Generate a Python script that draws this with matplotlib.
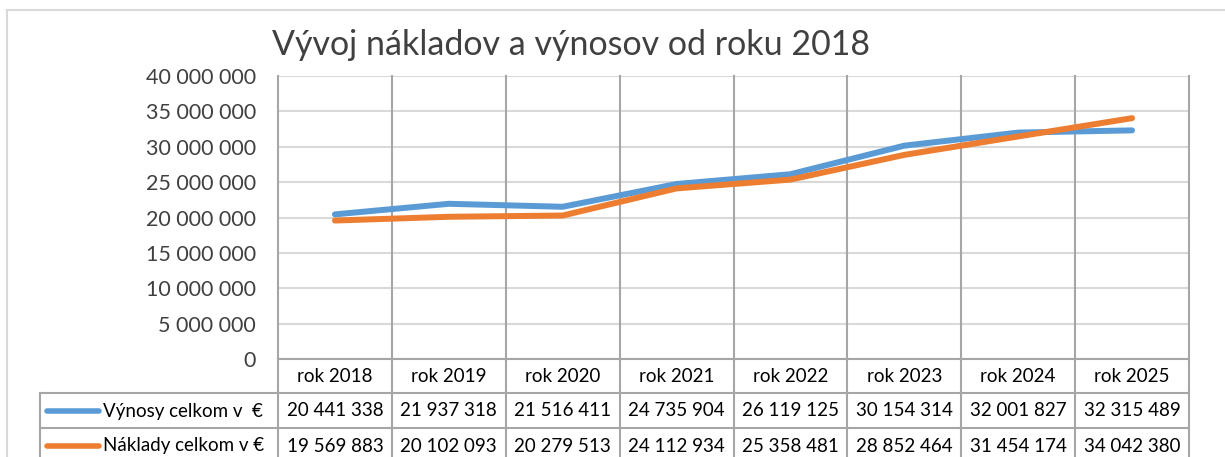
import matplotlib.pyplot as plt
from matplotlib.transforms import blended_transform_factory

# Data
years = ['rok 2018', 'rok 2019', 'rok 2020', 'rok 2021',
         'rok 2022', 'rok 2023', 'rok 2024', 'rok 2025']
vynosy = [20441338, 21937318, 21516411, 24735904, 26119125, 30154314, 32001827, 32315489]
naklady = [19569883, 20102093, 20279513, 24112934, 25358481, 28852464, 31454174, 34042380]
series_names = ['Výnosy celkom v  €', 'Náklady celkom v €']
series_colors = ['#5B9BD5', '#ED7D31']

plt.rcParams['font.family'] = ['Lato', 'DejaVu Sans']

W, H = 1225, 457
fig = plt.figure(figsize=(W / 100, H / 100), dpi=100)

# plot area in pixels
left, right, top, bottom = 278, 1189, 76, 359
ax = fig.add_axes([left / W, (H - bottom) / H, (right - left) / W, (bottom - top) / H])

x = list(range(len(years)))
ax.plot(x, vynosy, color=series_colors[0], lw=4.3, solid_capstyle='round', zorder=3)
ax.plot(x, naklady, color=series_colors[1], lw=4.3, solid_capstyle='round', zorder=3)

ax.set_xlim(-0.5, len(years) - 0.5)
ax.set_ylim(0, 40000000)
ax.set_yticks(range(0, 40000001, 5000000))
ax.set_yticklabels([f'{v:,}'.replace(',', ' ') for v in range(0, 40000001, 5000000)],
                   fontsize=15.5, color='#404040')
ax.tick_params(axis='y', length=0, pad=16)
ax.set_xticks([])
ax.grid(axis='y', color='#D9D9D9', lw=1.5)
for s in ['top', 'right', 'left']:
    ax.spines[s].set_visible(False)
ax.spines['bottom'].set_color('#A6A6A6')
ax.spines['bottom'].set_linewidth(1.5)

# vertical category lines running down through the table
def py(p):
    # pixel y -> axes fraction
    return (bottom - p) / (bottom - top)

def px(p):
    return (p - left) / (right - left)

bt = blended_transform_factory(ax.transData, ax.transAxes)
for i in range(len(years) + 1):
    ax.plot([i - 0.5, i - 0.5], [1, py(470)], transform=bt, color='#A6A6A6',
            lw=1.5, clip_on=False, zorder=2)

# table horizontal lines
for yy in [393, 428, 463]:
    ax.plot([px(40), 1], [py(yy), py(yy)], transform=ax.transAxes, color='#A6A6A6',
            lw=1.5, clip_on=False)
ax.plot([px(40), px(40)], [py(393), py(470)], transform=ax.transAxes, color='#A6A6A6',
        lw=1.5, clip_on=False)

# header row
for i, yr in enumerate(years):
    ax.text(i, py(377), yr, transform=bt, ha='center', va='center', fontsize=13.5,
            color='#000000')

# data rows
for r, vals in enumerate([vynosy, naklady]):
    yc = py(411 + 35 * r)
    ax.plot([px(47), px(99)], [yc, yc], transform=ax.transAxes, color=series_colors[r],
            lw=4, solid_capstyle='round', clip_on=False)
    ax.text(px(103), yc, series_names[r], transform=ax.transAxes, ha='left', va='center',
            fontsize=13.5, color='#000000')
    for i, v in enumerate(vals):
        ax.text(i, yc, f'{v:,}'.replace(',', ' '), transform=bt, ha='center', va='center',
                fontsize=13.5, color='#000000')

# chart frame
fig.add_artist(plt.Line2D([7 / W, 7 / W], [0, (H - 10) / H], color='#D9D9D9', lw=1.5))
fig.add_artist(plt.Line2D([7 / W, 1], [(H - 10) / H, (H - 10) / H], color='#D9D9D9', lw=1.5))

fig.text(272 / W, (H - 55) / H, 'Vývoj nákladov a výnosov od roku 2018', fontsize=24.5,
         color='#404040', ha='left', va='baseline')

fig.savefig('out.png', dpi=100)
